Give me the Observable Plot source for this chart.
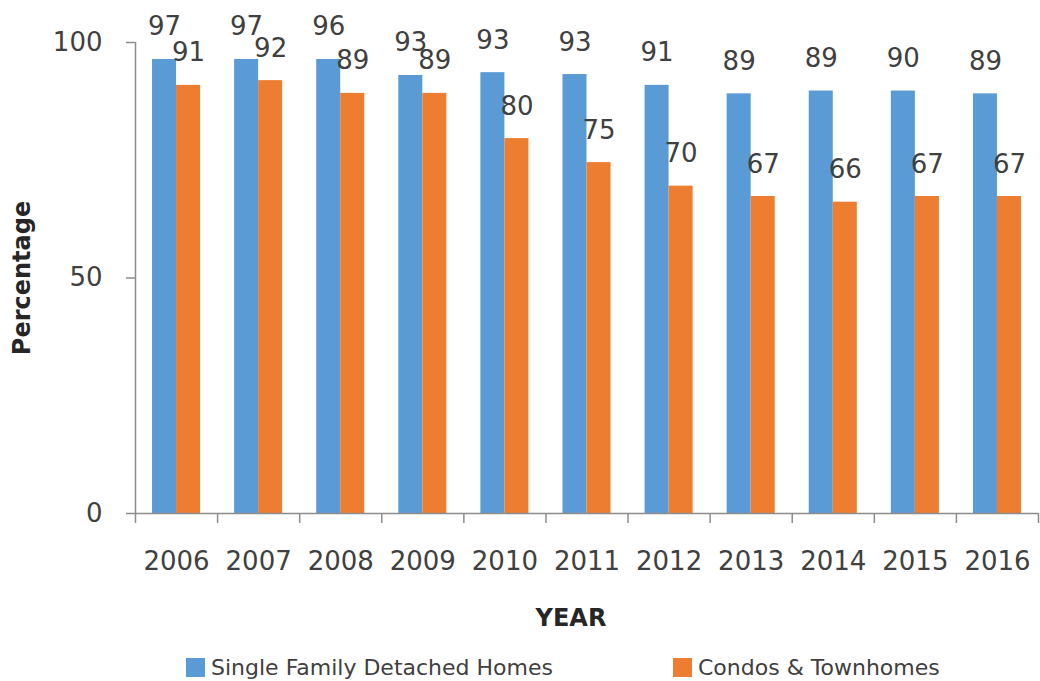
<!DOCTYPE html>
<html>
<head>
<meta charset="utf-8">
<script src="https://cdn.jsdelivr.net/npm/d3@7"></script>
<script src="https://cdn.jsdelivr.net/npm/@observablehq/plot@0.6"></script>
<style>
  html, body { margin: 0; padding: 0; background: #fff; }
  #chart { width: 1040px; }
  .legend { position: relative; height: 31px; font-family: "DejaVu Sans", sans-serif; font-size: 22px; color: #404040; }
  .legend .item { position: absolute; top: 5px; display: flex; align-items: center; }
  .legend .sw { width: 19px; height: 19px; margin-right: 6px; }
</style>
</head>
<body>
<div id="chart"></div>
<script>
const years = ["2006","2007","2008","2009","2010","2011","2012","2013","2014","2015","2016"];
const singleFamily = [96.4, 96.4, 96.4, 93.0, 93.6, 93.2, 90.9, 89.1, 89.7, 89.7, 89.1];
const singleFamilyLabels = ["97","97","96","93","93","93","91","89","89","90","89"];
const condos = [90.9, 91.9, 89.2, 89.2, 79.6, 74.5, 69.5, 67.3, 66.1, 67.3, 67.3];
const condosLabels = ["91","92","89","89","80","75","70","67","66","67","67"];
const seriesNames = ["Single Family Detached Homes", "Condos & Townhomes"];
const colors = ["#5B9BD5", "#ED7D31"];
const yTicks = [0, 50, 100];

const pad = 17 / 82; // outer gap inside each category band
const rows = [];
years.forEach((y, i) => {
  rows.push({i, year: y, series: seriesNames[0], value: singleFamily[i], label: singleFamilyLabels[i], x1: i + pad, x2: i + 0.5});
  rows.push({i, year: y, series: seriesNames[1], value: condos[i], label: condosLabels[i], x1: i + 0.5, x2: i + 1 - pad});
});
const boundaries = d3.range(0, years.length + 1);
const centers = years.map((_, i) => i + 0.5);

const font = "DejaVu Sans, sans-serif";
const chart = Plot.plot({
  width: 1040,
  height: 650,
  marginLeft: 135,
  marginRight: 2,
  marginTop: 42,
  marginBottom: 137,
  style: { fontFamily: font, fontSize: "26px", color: "#404040", background: "#fff" },
  x: { type: "linear", domain: [0, years.length] },
  y: { domain: [0, 100] },
  color: { domain: seriesNames, range: colors },
  marks: [
    Plot.rectY(rows, { x1: "x1", x2: "x2", y1: 0, y2: "value", fill: "series" }),
    Plot.text(rows, { x: d => (d.x1 + d.x2) / 2, y: "value", text: "label", lineAnchor: "bottom", dy: -24, fill: "#404040", fontSize: 26 }),
    Plot.ruleY([0], { stroke: "#8c8c8c", strokeWidth: 1.5 }),
    Plot.ruleX([0], { y1: 0, y2: 100, stroke: "#8c8c8c", strokeWidth: 1.5 }),
    Plot.axisX({ ticks: boundaries, tickSize: 10, tickFormat: () => "", stroke: "#8c8c8c", strokeWidth: 1.5, label: null }),
    Plot.axisX({ ticks: centers, tickSize: 0, tickPadding: 38, tickFormat: d => years[Math.round(d - 0.5)], fontSize: 26, label: null }),
    Plot.axisY({ ticks: yTicks, tickSize: 9, tickPadding: 24, stroke: "#8c8c8c", strokeWidth: 1.5, fontSize: 26,
      label: "Percentage", labelAnchor: "center", labelArrow: "none", labelOffset: 123 }),
    Plot.text(["YEAR"], { frameAnchor: "bottom", dy: 105, dx: -16, lineAnchor: "middle", fontWeight: "bold", fontSize: 24, fill: "#262626" })
  ]
});
// Bold y label
chart.querySelectorAll("text").forEach(t => {
  if (t.textContent === "Percentage") { t.setAttribute("font-weight", "bold"); t.setAttribute("fill", "#262626"); t.setAttribute("font-size", "24"); }
});
document.getElementById("chart").appendChild(chart);

const legend = document.createElement("div");
legend.className = "legend";
const lefts = [186, 673];
seriesNames.forEach((name, k) => {
  const item = document.createElement("div");
  item.className = "item";
  item.style.left = lefts[k] + "px";
  const sw = document.createElement("span");
  sw.className = "sw";
  sw.style.background = colors[k];
  const tx = document.createElement("span");
  tx.textContent = name;
  item.appendChild(sw); item.appendChild(tx);
  legend.appendChild(item);
});
document.getElementById("chart").appendChild(legend);
</script>
</body>
</html>
